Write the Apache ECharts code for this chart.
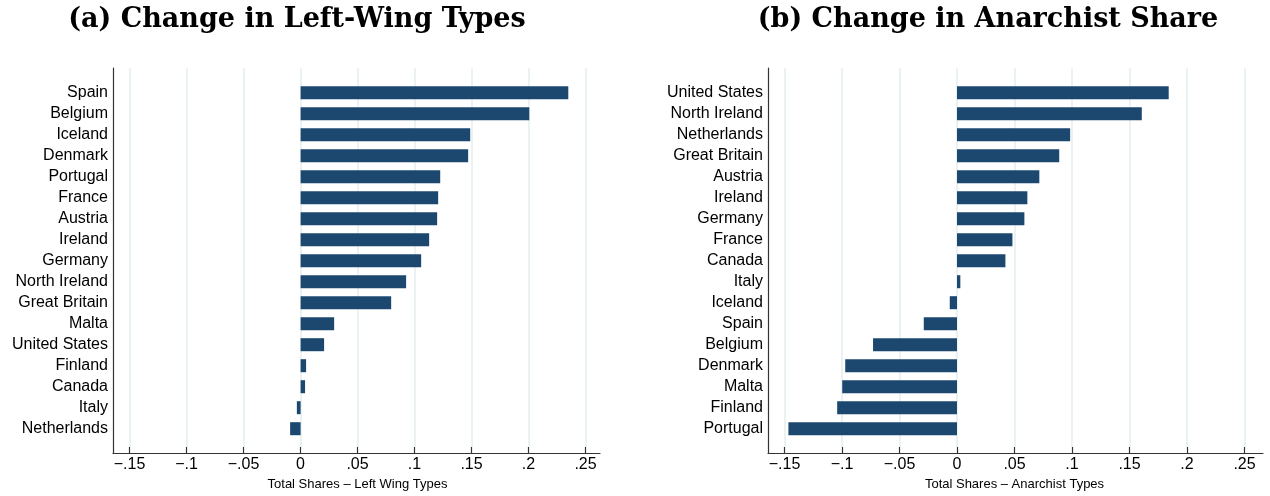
<!DOCTYPE html>
<html>
<head>
<meta charset="utf-8">
<script src="https://cdn.jsdelivr.net/npm/echarts@6/dist/echarts.min.js"></script>
<style>
html,body{margin:0;padding:0;background:#fff;}
#chart{width:1270px;height:496px;}
</style>
</head>
<body>
<div id="chart"></div>
<script>
// Panel (a): Change in Left-Wing Types (top to bottom)
var leftCountries = ["Spain","Belgium","Iceland","Denmark","Portugal","France","Austria","Ireland","Germany","North Ireland","Great Britain","Malta","United States","Finland","Canada","Italy","Netherlands"];
var leftValues = [0.2347,0.2005,0.1487,0.1469,0.1224,0.1206,0.1197,0.1127,0.1057,0.0925,0.0794,0.0294,0.0206,0.0048,0.0039,-0.0033,-0.0092];

// Panel (b): Change in Anarchist Share (top to bottom)
var rightCountries = ["United States","North Ireland","Netherlands","Great Britain","Austria","Ireland","Germany","France","Canada","Italy","Iceland","Spain","Belgium","Denmark","Malta","Finland","Portugal"];
var rightValues = [0.1841,0.1607,0.0984,0.0889,0.0716,0.0612,0.0586,0.0482,0.0421,0.0029,-0.0063,-0.0289,-0.0730,-0.0972,-0.0998,-0.1042,-0.1466];

var tickValues = [-0.15,-0.1,-0.05,0,0.05,0.1,0.15,0.2,0.25];
var titles = ["(a) Change in Left-Wing Types","(b) Change in Anarchist Share"];
var axisNames = ["Total Shares \u2013 Left Wing Types","Total Shares \u2013 Anarchist Types"];

var BAR = '#1c4870';
var SANS = '"Liberation Sans", Arial, Helvetica, sans-serif';

function fmt(v){
  if (Math.abs(v) < 1e-9) return '0';
  var s = (Math.round(Math.abs(v)*100)/100).toString().replace(/^0/, '');
  return (v < 0 ? '\u2212' : '') + s;
}

var chart = echarts.init(document.getElementById('chart'));

var P = [
  {axL:113, axR:600, ticL:129.5, ticR:585.5, min:-0.1645, max:0.2625, titleX:292},
  {axL:768, axR:1263, ticL:784.5, ticR:1244.5, min:-0.16435, max:0.2661, titleX:983}
];
var W = 1270, H = 496;
var axTop = 68, axBot = 453;
var barTop = 82.2, barBot = 439.2;

var grids = [], xAxes = [], yAxes = [], series = [], titleArr = [];
var cats = [leftCountries, rightCountries];
var vals = [leftValues, rightValues];

P.forEach(function(p, i){
  var g0 = grids.length;
  grids.push({left:p.axL, right:W-p.axR, top:axTop, bottom:H-axBot, containLabel:false});
  grids.push({left:p.ticL, right:W-p.ticR, top:axTop, bottom:H-axBot, containLabel:false});
  grids.push({left:p.axL, right:W-p.axR, top:barTop, bottom:H-barBot, containLabel:false});

  xAxes.push({gridIndex:g0, type:'value', min:0, max:1, axisLine:{show:true, onZero:false, lineStyle:{color:'#333', width:1.2}}, axisTick:{show:false}, axisLabel:{show:false}, splitLine:{show:false}});
  yAxes.push({gridIndex:g0, type:'value', min:0, max:1, axisLine:{show:true, onZero:false, lineStyle:{color:'#333', width:1.2}}, axisTick:{show:false}, axisLabel:{show:false}, splitLine:{show:false}});

  xAxes.push({gridIndex:g0+1, type:'value', min:tickValues[0], max:tickValues[tickValues.length-1], interval:0.05,
    axisLine:{show:false},
    axisTick:{show:true, inside:false, length:6, lineStyle:{color:'#333', width:1.2}},
    axisLabel:{show:true, formatter:fmt, color:'#000', fontFamily:SANS, fontSize:16, margin:10},
    splitLine:{show:true, lineStyle:{color:'#e4eef1', width:1.5}},
    name:axisNames[i], nameLocation:'middle', nameGap:31,
    nameTextStyle:{color:'#000', fontFamily:SANS, fontSize:13}
  });
  yAxes.push({gridIndex:g0+1, type:'value', min:0, max:1, show:false});

  xAxes.push({gridIndex:g0+2, type:'value', min:p.min, max:p.max, show:false});
  yAxes.push({gridIndex:g0+2, type:'category', data:cats[i], inverse:true,
    axisLine:{show:false}, axisTick:{show:false}, splitLine:{show:false},
    axisLabel:{show:true, color:'#000', fontFamily:SANS, fontSize:16, margin:5, interval:0, padding:[2,0,0,0]}
  });
  series.push({type:'bar', xAxisIndex:g0+2, yAxisIndex:g0+2, data:vals[i], barWidth:'62%',
    itemStyle:{color:BAR}, silent:true, animation:false});

  titleArr.push({text:titles[i], left:p.titleX, top:1, textAlign:'center',
    textStyle:{fontFamily:'"DejaVu Serif", "Liberation Serif", serif', fontWeight:'bold', fontSize:27, color:'#000'}});
});

chart.setOption({
  animation:false,
  backgroundColor:'#fff',
  title:titleArr,
  grid:grids,
  xAxis:xAxes,
  yAxis:yAxes,
  series:series
});
</script>
</body>
</html>
